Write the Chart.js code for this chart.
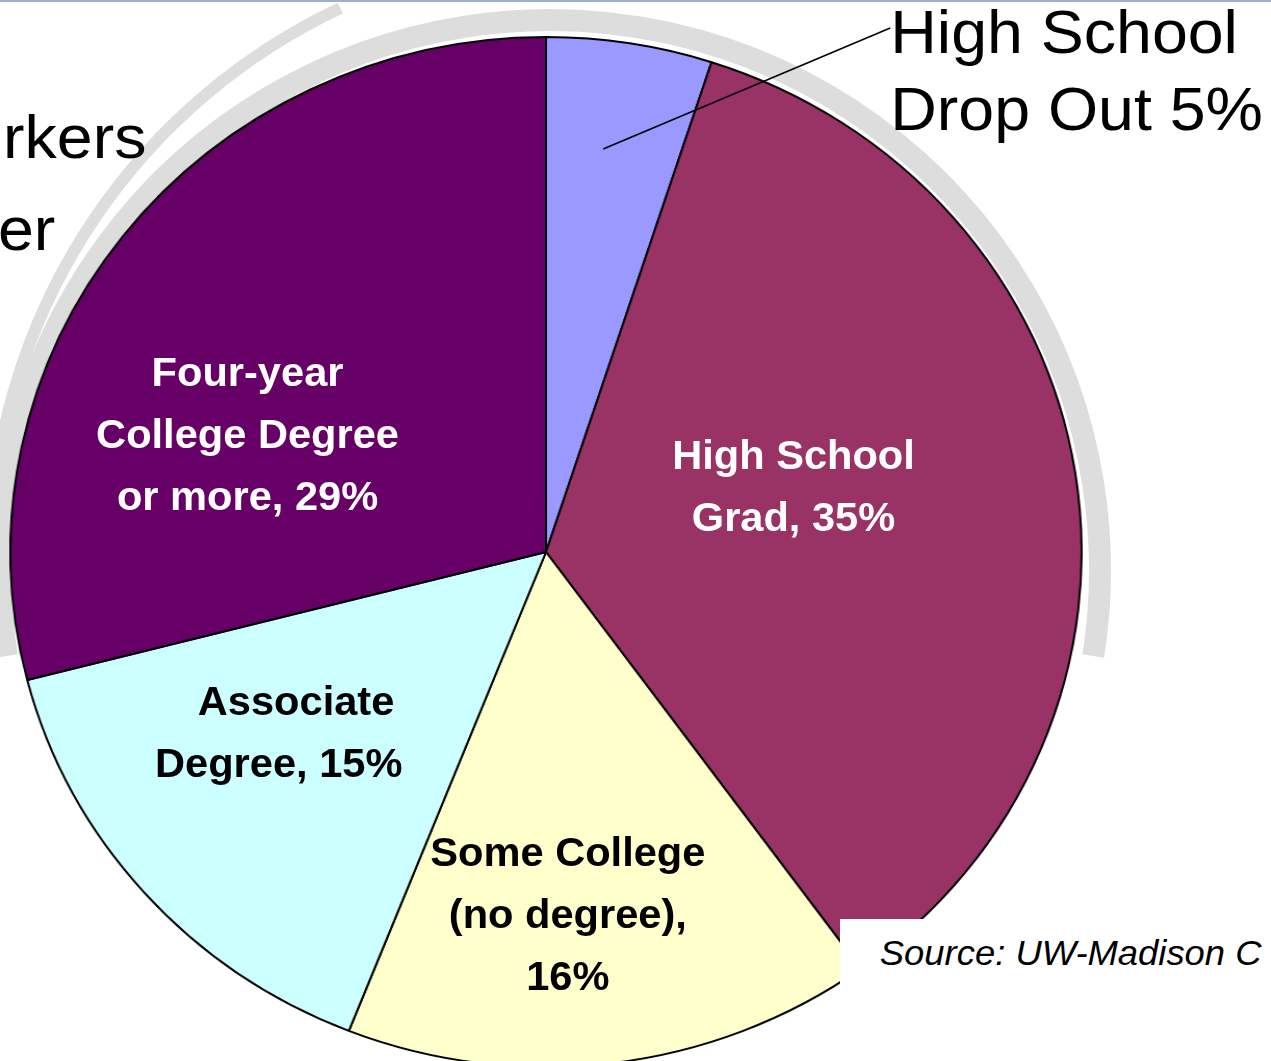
<!DOCTYPE html>
<html>
<head>
<meta charset="utf-8">
<script src="https://cdn.jsdelivr.net/npm/chart.js@4.4.1/dist/chart.umd.min.js"></script>
<style>
  html, body { margin: 0; padding: 0; background: #fff; overflow: hidden; }
  body { width: 1271px; height: 1061px; position: relative; font-family: 'Liberation Sans', Arial, sans-serif; }
  #seal { position: absolute; left: 0; top: 0; }
  #topRule { position: absolute; left: 0; top: 0; width: 1271px; height: 2px; background: #9db1c9; }
  #stage { position: absolute; left: 0; top: 0; width: 1222px; height: 1061px; transform: scaleX(1.04); transform-origin: 0 0; }
  #pieBox { position: absolute; left: 9px; top: 36px; width: 1032px; height: 1032px; }
  .lbl { position: absolute; transform: translate(-50%, -50%); text-align: center; font-weight: bold; font-size: 40px; line-height: 62px; white-space: nowrap; }
  .big { position: absolute; font-size: 62px; line-height: 77px; white-space: nowrap; color: #000; }
  #srcBox { position: absolute; left: 808px; top: 919px; width: 420px; height: 150px; background: #fff; }
  #src { position: absolute; left: 846px; top: 930px; font-size: 35px; line-height: 46px; font-style: italic; white-space: nowrap; }
  #leader { position: absolute; left: 0; top: 0; }
</style>
</head>
<body>
<canvas id="seal" width="1271" height="1061"></canvas>
<div id="topRule"></div>
<div id="stage">
  <div class="big" style="left:3px; top:98px;">rkers</div>
  <div class="big" style="left:-2px; top:190px;">er</div>
  <div id="pieBox"><canvas id="pie" width="1032" height="1032"></canvas></div>
  <svg id="leader" width="1222" height="300"><line x1="580" y1="149" x2="856" y2="28" stroke="#000" stroke-width="1.5"/></svg>
  <div id="srcBox"></div>
  <div id="src">Source: UW-Madison C</div>
</div>
<script>
// slice data, clockwise from 12 o'clock
const categories = ['High School Drop Out', 'High School Grad', 'Some College (no degree)', 'Associate Degree', 'Four-year College Degree or more'];
const shares = [5, 35, 16, 15, 29];
const sliceColors = ['#9999ff', '#993366', '#ffffcc', '#ccffff', '#660066'];
const labelLines = [
    ['High School', 'Drop Out {v}%'],
    ['High School', 'Grad, {v}%'],
    ['Some College', '(no degree),', '{v}%'],
    ['\u00a0\u00a0\u00a0Associate', 'Degree, {v}%'],
    ['Four-year', 'College Degree', 'or more, {v}%']
];
// where each label sits on the stage
const labelSpots = [
    { x: 856, y: -7, color: '#000', outside: true },
    { x: 763, y: 486, color: '#fff' },
    { x: 546, y: 914, color: '#000' },
    { x: 268, y: 732, color: '#000' },
    { x: 238, y: 434, color: '#fff' }
];

// faint seal watermark behind the chart (only the upper part shows)
const sctx = document.getElementById('seal').getContext('2d');
sctx.strokeStyle = '#dddddd';
sctx.lineWidth = 22;
sctx.beginPath();
sctx.arc(550, 570, 550, Math.PI * 0.95, Math.PI * 2.05);
sctx.stroke();
sctx.lineWidth = 12;
sctx.beginPath();
sctx.arc(600, 560, 610, Math.PI * 1.02, Math.PI * 1.36);
sctx.stroke();

new Chart(document.getElementById('pie'), {
    type: 'pie',
    data: {
        labels: categories,
        datasets: [{
            data: shares,
            backgroundColor: sliceColors,
            borderColor: '#000000',
            borderWidth: 2
        }]
    },
    options: {
        responsive: false,
        animation: false,
        layout: { padding: 0 },
        plugins: { legend: { display: false }, tooltip: { enabled: false } }
    }
});

const stage = document.getElementById('stage');
labelLines.forEach((lines, i) => {
    const spot = labelSpots[i];
    const div = document.createElement('div');
    div.className = spot.outside ? 'big' : 'lbl';
    div.style.left = spot.x + 'px';
    div.style.top = spot.y + 'px';
    div.style.color = spot.color;
    div.innerHTML = lines.map(l => l.replace('{v}', shares[i])).join('<br>');
    stage.appendChild(div);
});
</script>
</body>
</html>
